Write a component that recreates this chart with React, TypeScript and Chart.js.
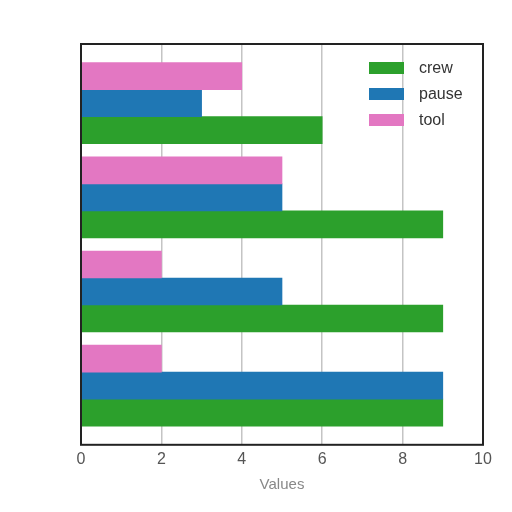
import { useEffect, useRef } from 'react';
import { Chart, registerables } from 'chart.js';

Chart.register(...registerables);

const GROUPS = [0, 1, 2, 3];
const CREW = [9, 9, 9, 6];
const PAUSE = [9, 5, 5, 3];
const TOOL = [2, 2, 5, 4];
const X_TICKS = [0, 2, 4, 6, 8, 10];

const FONT = "'Liberation Sans', Arial, sans-serif";

// box around the plot area, like a matplotlib axes frame
const framePlugin = {
  id: 'frame',
  afterDatasetsDraw(chart: any) {
    const { ctx, chartArea: a } = chart;
    ctx.save();
    ctx.strokeStyle = '#222';
    ctx.lineWidth = 2;
    ctx.strokeRect(a.left, a.top, a.right - a.left, a.bottom - a.top);
    ctx.restore();
  },
};

// legend drawn inside the upper right corner of the plot
const insideLegend = {
  id: 'insideLegend',
  afterDraw(chart: any) {
    const { ctx, chartArea: a } = chart;
    const items = [...chart.data.datasets].reverse();
    ctx.save();
    ctx.font = `16px ${FONT}`;
    ctx.textBaseline = 'middle';
    items.forEach((ds: any, i: number) => {
      const y = a.top + 24 + i * 26;
      const x = a.right - 114;
      ctx.fillStyle = ds.backgroundColor;
      ctx.fillRect(x, y - 6, 35, 12);
      ctx.fillStyle = '#333';
      ctx.fillText(ds.label, x + 50, y + 1);
    });
    ctx.restore();
  },
};

export default function App() {
  const ref = useRef<HTMLCanvasElement>(null);
  const chart = useRef<Chart | null>(null);

  useEffect(() => {
    if (!ref.current) return;
    const toPts = (vals: number[]) => vals.map((v, i) => ({ x: v, y: GROUPS[i] }));
    chart.current?.destroy();
    chart.current = new Chart(ref.current, {
      type: 'bar',
      data: {
        datasets: [
          { label: 'tool', data: toPts(TOOL), backgroundColor: '#e377c2' },
          { label: 'pause', data: toPts(PAUSE), backgroundColor: '#1f77b4' },
          { label: 'crew', data: toPts(CREW), backgroundColor: '#2ca02c' },
        ] as any,
      },
      options: {
        indexAxis: 'y',
        responsive: false,
        animation: false,
        layout: { padding: { left: 81, top: 44, right: 29, bottom: 18 } },
        datasets: { bar: { barThickness: 27, borderWidth: 0 } },
        plugins: { legend: { display: false }, tooltip: { enabled: false } },
        scales: {
          x: {
            type: 'linear',
            min: 0,
            max: 10,
            afterBuildTicks: (s: any) => { s.ticks = X_TICKS.map((v) => ({ value: v })); },
            grid: { color: '#c4c4c4', lineWidth: 1.5, drawTicks: false },
            border: { display: false },
            ticks: { color: '#555', padding: 5, font: { family: FONT, size: 16 } },
            title: {
              display: true,
              text: 'Values',
              color: '#888',
              padding: { top: 2, bottom: 0 },
              font: { family: FONT, size: 15 },
            },
          },
          y: {
            type: 'linear',
            min: -0.628,
            max: 3.628,
            offset: false,
            display: false,
          },
        },
      },
      plugins: [framePlugin, insideLegend],
    });
    return () => { chart.current?.destroy(); };
  }, []);

  return (
    <div style={{ position: 'fixed', left: 0, top: 0, width: 512, height: 512, background: '#fff' }}>
      <canvas ref={ref} width={512} height={512} style={{ width: 512, height: 512 }} />
    </div>
  );
}
